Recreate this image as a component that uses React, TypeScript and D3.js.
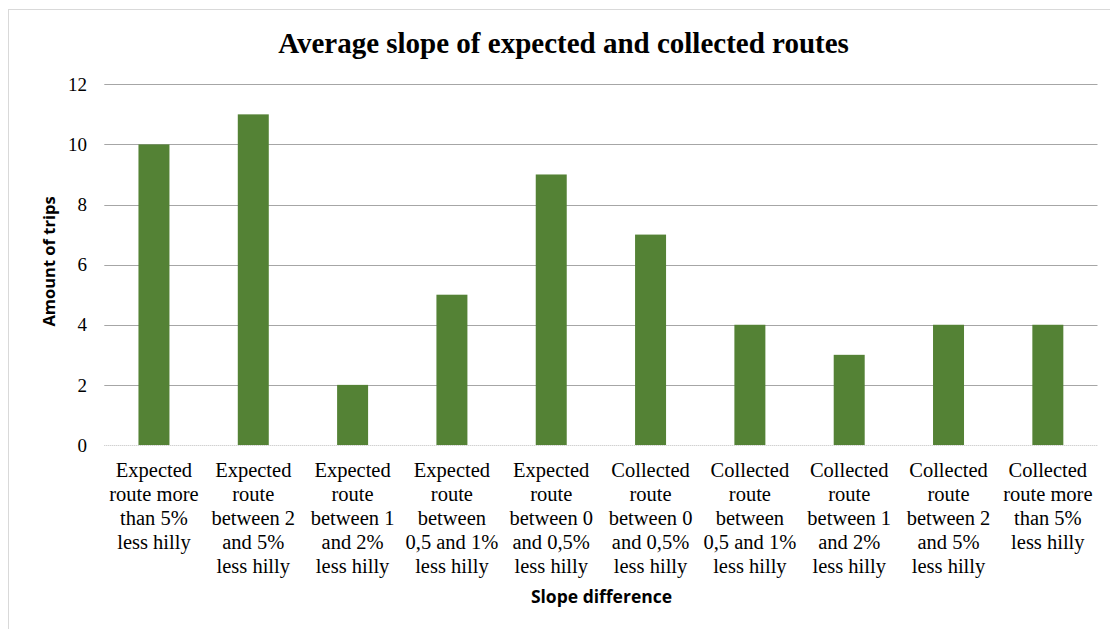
import React from "react";
import * as d3 from "d3";

// Slope-difference categories (line breaks mark where each label wraps)
const categories: string[] = [
  "Expected\nroute more\nthan 5%\nless hilly",
  "Expected\nroute\nbetween 2\nand 5%\nless hilly",
  "Expected\nroute\nbetween 1\nand 2%\nless hilly",
  "Expected\nroute\nbetween\n0,5 and 1%\nless hilly",
  "Expected\nroute\nbetween 0\nand 0,5%\nless hilly",
  "Collected\nroute\nbetween 0\nand 0,5%\nless hilly",
  "Collected\nroute\nbetween\n0,5 and 1%\nless hilly",
  "Collected\nroute\nbetween 1\nand 2%\nless hilly",
  "Collected\nroute\nbetween 2\nand 5%\nless hilly",
  "Collected\nroute more\nthan 5%\nless hilly",
];

// Amount of trips per category
const trips: number[] = [10, 11, 2, 5, 9, 7, 4, 3, 4, 4];

const yTicks: number[] = [0, 2, 4, 6, 8, 10, 12];

const W = 1110;
const H = 629;
const plot = { left: 104.3, right: 1097.5, top: 84.3, bottom: 445 };

const SERIF = "'Liberation Serif', 'Times New Roman', serif";
const SANS = "'Open Sans', 'Liberation Sans', Arial, sans-serif";

export default function App() {
  const x = d3
    .scaleBand<number>()
    .domain(d3.range(categories.length))
    .range([plot.left, plot.right])
    .paddingInner(0.688)
    .paddingOuter(0.344);

  const y = d3.scaleLinear().domain([0, 12]).range([plot.bottom, plot.top]);

  return (
    <svg
      width={W}
      height={H}
      style={{ position: "absolute", left: 0, top: 0, background: "#fff" }}
    >
      <rect x={8.5} y={9.5} width={W + 10} height={H + 10} fill="#fff" stroke="#d9d9d9" strokeWidth={1} />

      <text
        x={563.5}
        y={52.5}
        textAnchor="middle"
        fontFamily={SERIF}
        fontWeight="bold"
        fontSize={29}
        fill="#000"
      >
        Average slope of expected and collected routes
      </text>

      {yTicks.map((t) =>
        t === 0 ? null : (
          <line
            key={"g" + t}
            x1={plot.left}
            x2={plot.right}
            y1={Math.round(y(t)) + 0.5}
            y2={Math.round(y(t)) + 0.5}
            stroke="#a6a6a6"
            strokeWidth={1}
          />
        )
      )}

      {trips.map((v, i) => (
        <rect
          key={"b" + i}
          x={x(i)!}
          y={y(v)}
          width={x.bandwidth()}
          height={y(0) - y(v)}
          fill="#548235"
        />
      ))}

      <line
        x1={plot.left}
        x2={plot.right}
        y1={Math.round(y(0)) + 0.5}
        y2={Math.round(y(0)) + 0.5}
        stroke="#bfbfbf"
        strokeWidth={1}
        strokeDasharray="1 1"
      />

      {yTicks.map((t) => (
        <text
          key={"t" + t}
          x={87}
          y={y(t)}
          dy="0.35em"
          textAnchor="end"
          fontFamily={SERIF}
          fontSize={19}
          fill="#000"
        >
          {t}
        </text>
      ))}

      {categories.map((c, i) => (
        <text
          key={"c" + i}
          x={x(i)! + x.bandwidth() / 2}
          y={477}
          textAnchor="middle"
          fontFamily={SERIF}
          fontSize={20.5}
          fill="#000"
        >
          {c.split("\n").map((line, j) => (
            <tspan key={j} x={x(i)! + x.bandwidth() / 2} dy={j === 0 ? 0 : 24}>
              {line}
            </tspan>
          ))}
        </text>
      ))}

      <text
        transform="translate(55, 261.5) rotate(-90)"
        textAnchor="middle"
        fontFamily={SANS}
        fontWeight="bold"
        fontSize={16.5}
        fill="#000"
      >
        Amount of trips
      </text>

      <text
        x={601.5}
        y={603}
        textAnchor="middle"
        fontFamily={SANS}
        fontWeight="bold"
        fontSize={17.5}
        fill="#000"
      >
        Slope difference
      </text>
    </svg>
  );
}
